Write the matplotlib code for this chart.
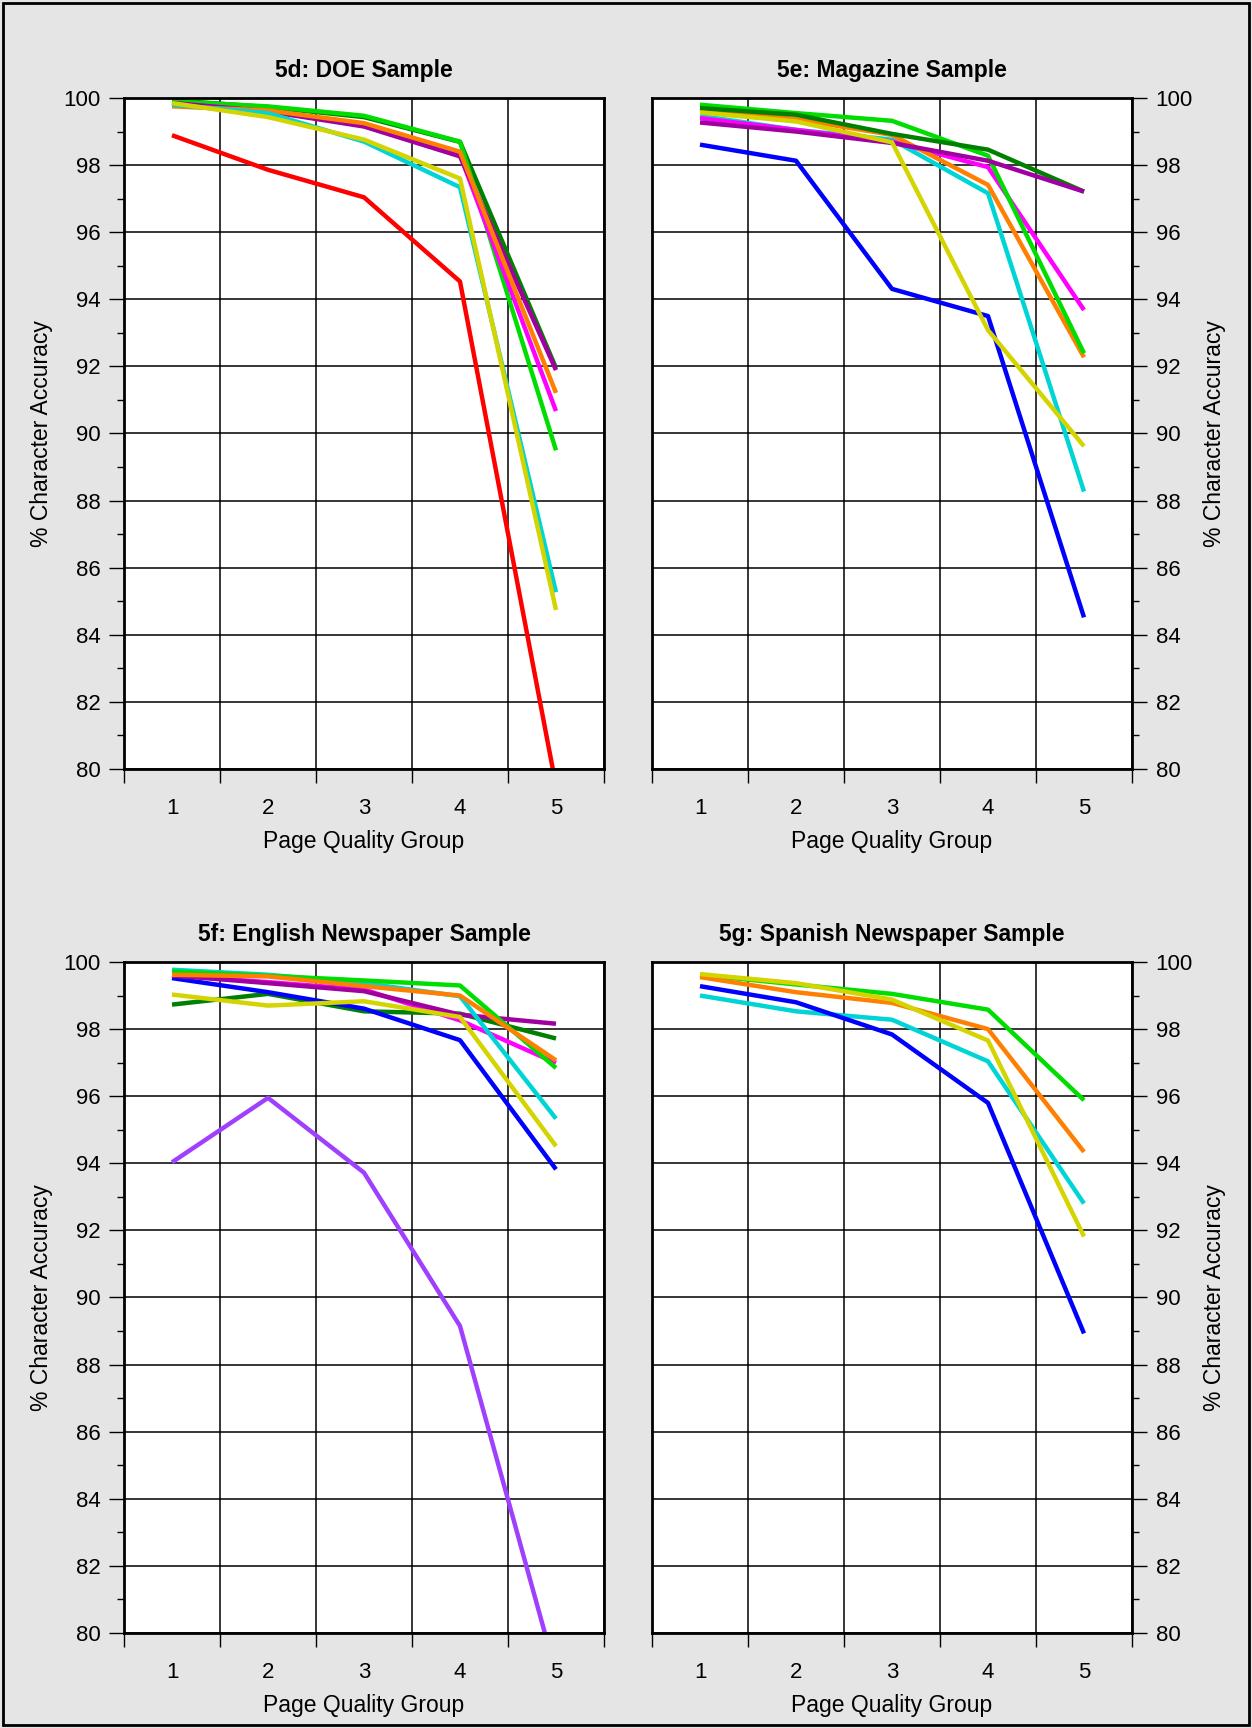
import matplotlib
matplotlib.use("Agg")
import matplotlib.pyplot as plt
from matplotlib.patches import Rectangle

plt.rcParams['font.family'] = ['Liberation Sans', 'DejaVu Sans']

groups = [1, 2, 3, 4, 5]

# 5d: DOE sample
doe_dkgreen = [99.93, 99.73, 99.43, 98.69, 91.95]
doe_green = [99.90, 99.75, 99.47, 98.70, 89.50]
doe_magenta = [99.85, 99.60, 99.20, 98.30, 90.67]
doe_purple = [99.85, 99.60, 99.15, 98.26, 91.89]
doe_orange = [99.75, 99.63, 99.25, 98.40, 91.21]
doe_cyan = [99.80, 99.55, 98.70, 97.34, 85.27]
doe_yellow = [99.85, 99.43, 98.76, 97.60, 84.74]
doe_red = [98.89, 97.86, 97.04, 94.53, 79.50]

# 5e: Magazine sample
mag_blue = [98.61, 98.13, 94.31, 93.50, 84.52]
mag_cyan = [99.47, 99.05, 98.76, 97.16, 88.27]
mag_yellow = [99.57, 99.30, 98.68, 93.08, 89.62]
mag_magenta = [99.40, 99.05, 98.70, 97.94, 93.68]
mag_orange = [99.67, 99.37, 98.90, 97.41, 92.27]
mag_green = [99.80, 99.55, 99.32, 98.28, 92.39]
mag_purple = [99.27, 99.00, 98.66, 98.13, 97.21]
mag_dkgreen = [99.70, 99.50, 98.93, 98.46, 97.21]

# 5f: English newspaper sample
eng_violet = [94.03, 95.95, 93.72, 89.15, 78.80]
eng_dkgreen = [98.73, 99.05, 98.53, 98.46, 97.72]
eng_yellow = [99.03, 98.70, 98.83, 98.36, 94.51]
eng_blue = [99.52, 99.10, 98.61, 97.67, 93.82]
eng_magenta = [99.60, 99.40, 99.18, 98.26, 96.99]
eng_purple = [99.60, 99.37, 99.13, 98.43, 98.16]
eng_cyan = [99.77, 99.62, 99.37, 98.98, 95.33]
eng_green = [99.72, 99.59, 99.45, 99.30, 96.84]
eng_orange = [99.62, 99.57, 99.28, 99.00, 97.07]

# 5g: Spanish newspaper sample
spa_cyan = [99.00, 98.53, 98.28, 97.04, 92.80]
spa_blue = [99.28, 98.80, 97.84, 95.80, 88.93]
spa_green = [99.62, 99.33, 99.05, 98.58, 95.88]
spa_orange = [99.55, 99.10, 98.78, 98.00, 94.34]
spa_yellow = [99.64, 99.37, 98.88, 97.66, 91.82]

colors = {
    'red': '#ff0000', 'dkgreen': '#008000', 'green': '#00dd00',
    'purple': '#a000a0', 'magenta': '#ff00ff', 'orange': '#ff8000',
    'cyan': '#00d4d4', 'yellow': '#d4d400', 'blue': '#0000ff',
    'violet': '#a040ff',
}

panels = [
    ("5d: DOE Sample", 'left', [
        (doe_dkgreen, 'dkgreen'), (doe_green, 'green'), (doe_magenta, 'magenta'),
        (doe_purple, 'purple'), (doe_orange, 'orange'), (doe_cyan, 'cyan'),
        (doe_yellow, 'yellow'), (doe_red, 'red')]),
    ("5e: Magazine Sample", 'right', [
        (mag_blue, 'blue'), (mag_cyan, 'cyan'), (mag_magenta, 'magenta'),
        (mag_orange, 'orange'), (mag_green, 'green'), (mag_dkgreen, 'dkgreen'),
        (mag_purple, 'purple'), (mag_yellow, 'yellow')]),
    ("5f: English Newspaper Sample", 'left', [
        (eng_violet, 'violet'), (eng_dkgreen, 'dkgreen'), (eng_blue, 'blue'),
        (eng_magenta, 'magenta'), (eng_purple, 'purple'), (eng_yellow, 'yellow'),
        (eng_cyan, 'cyan'), (eng_green, 'green'), (eng_orange, 'orange')]),
    ("5g: Spanish Newspaper Sample", 'right', [
        (spa_cyan, 'cyan'), (spa_blue, 'blue'), (spa_green, 'green'),
        (spa_orange, 'orange'), (spa_yellow, 'yellow')]),
]

W, H = 1252, 1728
fig = plt.figure(figsize=(W / 100, H / 100), dpi=100, facecolor='#e5e5e5')
fig.patches.append(Rectangle((3 / W, 3 / H), 1 - 6 / W, 1 - 6 / H, transform=fig.transFigure,
                             fill=False, edgecolor='black', linewidth=2))

boxes = [(124, 98), (652, 98), (124, 962), (652, 962)]
for (title, side, series), (x0, y0) in zip(panels, boxes):
    ax = fig.add_axes([x0 / W, 1 - (y0 + 671) / H, 480 / W, 671 / H])
    for vals, c in series:
        ax.plot(groups, vals, color=colors[c], linewidth=3.2, solid_capstyle='butt')

    ax.set_xlim(0.5, 5.5)
    ax.set_ylim(80, 100)
    ax.set_xticks([0.5, 1.5, 2.5, 3.5, 4.5, 5.5])
    ax.set_xticklabels([])
    ax.set_xticks(groups, minor=True)
    ax.set_xticklabels([str(g) for g in groups], minor=True)
    ax.set_yticks(range(80, 101, 2))
    ax.set_yticks(range(81, 100, 2), minor=True)
    ax.grid(True, which='major', color='black', linewidth=1.1)
    ax.set_axisbelow(True)

    ax.tick_params(axis='x', which='major', direction='out', length=10, width=1)
    ax.tick_params(axis='x', which='minor', length=0, pad=21, labelsize=16)
    ax.tick_params(axis='y', which='major', direction='out', length=11, width=1, pad=6, labelsize=16)
    ax.tick_params(axis='y', which='minor', direction='out', length=5, width=1)
    if side == 'right':
        ax.yaxis.tick_right()
        ax.yaxis.set_label_position('right')
    for sp in ax.spines.values():
        sp.set_linewidth(2)

    ax.set_title(title, fontsize=16.5, fontweight='bold', pad=15)
    ax.set_xlabel("Page Quality Group", fontsize=16.5, labelpad=8)
    ax.set_ylabel("% Character Accuracy", fontsize=16.5, rotation=90, labelpad=7)

fig.savefig("out.png", dpi=100, facecolor=fig.get_facecolor())
